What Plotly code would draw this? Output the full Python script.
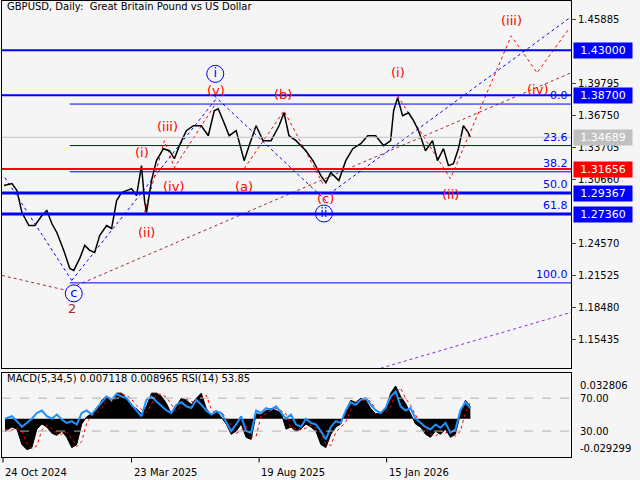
import plotly.graph_objects as go

# ---- data ----
bar_x = [2,10,15,20,27,33,40,45,50,55,62,68,72,78,83,88,93,98,105,110,115,120,125,130,135,140,143,145,150,155,162,168,173,178,185,192,200,207,213,217,222,228,235,243,248,255,262,270,278,283,288,295,305,312,320,325,330,338,345,352,360,367,375,383,390,393,397,402,408,413,418,425,432,437,443,448,453,458,463,468,470]
close = [1.3008,1.3027,1.2960,1.2751,1.2627,1.2627,1.2723,1.2770,1.2646,1.2561,1.2390,1.2218,1.2199,1.2313,1.2437,1.2390,1.2370,1.2532,1.2627,1.2599,1.2865,1.2941,1.2960,1.2979,1.2913,1.3199,1.2865,1.2751,1.3056,1.3246,1.3360,1.3341,1.3265,1.3389,1.3532,1.3579,1.3579,1.3484,1.3722,1.3741,1.3627,1.3484,1.3532,1.3246,1.3389,1.3579,1.3437,1.3437,1.3579,1.3703,1.3484,1.3437,1.3341,1.3246,1.3103,1.3036,1.3132,1.3056,1.3246,1.3360,1.3408,1.3484,1.3484,1.3389,1.3437,1.3722,1.3846,1.3675,1.3703,1.3627,1.3532,1.3341,1.3437,1.3246,1.3360,1.3199,1.3217,1.3360,1.3579,1.3513,1.3469]

ind_x = [3] + list(range(10, 475, 5))
macd = [-12,-8,-10,-25,-30,-28,-10,-5,-8,-14,-16,-12,-18,-28,-25,-5,2,5,8,18,22,16,25,25,20,12,10,5,12,25,25,22,15,5,12,20,18,14,20,25,10,4,8,2,-5,-15,-12,-5,-18,-20,5,4,8,10,8,6,-10,-8,-12,-10,-5,-8,-12,-25,-28,-15,-8,-5,8,18,16,20,18,10,5,5,10,25,32,22,15,5,-5,-8,-15,-18,-12,-15,-10,-18,-15,5,18,12]
signal = [-10,-11,-9,-12,-24,-29,-26,-11,-6,-9,-14,-15,-13,-19,-27,-22,-4,3,6,10,18,21,18,24,23,19,13,9,6,14,24,24,21,14,7,13,19,17,15,21,23,9,5,7,1,-6,-14,-11,-7,-18,-17,3,5,8,10,8,5,-9,-9,-11,-9,-6,-9,-14,-24,-26,-13,-8,-3,9,17,17,19,17,9,6,6,12,25,30,20,13,4,-5,-9,-15,-17,-12,-14,-11,-17,-12,6,16]
rsi = [45,48,42,35,40,45,52,55,48,45,50,44,40,42,38,52,55,50,58,65,72,68,75,72,70,62,55,48,68,72,66,60,55,52,62,65,60,58,68,62,55,50,54,52,40,30,38,48,30,28,55,52,58,56,60,52,45,50,38,35,45,40,38,30,20,35,42,40,55,65,62,68,70,62,55,52,58,72,78,60,55,58,45,40,35,32,38,34,40,28,32,55,65,58]

axis_ticks = [1.45885,1.39795,1.36750,1.33705,1.30660,1.24570,1.21525,1.18480,1.15435]
boxed_levels = [1.43000,1.38700,1.34689,1.31656,1.29367,1.27360]
boxed_colors = ["#0000ff","#0000ff","#c0c0c0","#ff0000","#0000ff","#0000ff"]
fib_levels = [1.3786,1.3390,1.3140,1.29367,1.27360,1.2080]
fib_names = ["0.0","23.6","38.2","50.0","61.8","100.0"]
date_ticks = [1,130,258,386]
date_labels = ["24 Oct 2024","23 Mar 2025","19 Aug 2025","15 Jan 2026"]

blue_paths = [([3,70],[1.3084,1.2103]),([70,215],[1.2103,1.3836]),([213,325],[1.3865,1.2865]),([333,571],[1.2960,1.4617])]
brown_paths = [([0,65],[1.2151,1.2008]),([75,571],[1.2056,1.4084])]
purple_path = ([380,571],[1.1266,1.1799])
red_paths = [([143,163,173,213],[1.2751,1.3436,1.3179,1.3769]),
             ([243,283,322],[1.3170,1.3722,1.3027]),
             ([397,450,511,537,568],[1.3865,1.3074,1.4436,1.4084,1.4493])]
red_labels = [("(i)",140,1.3322),("(ii)",145,1.2560),("(iii)",166,1.3570),("(iv)",172,1.3000),("(v)",215,1.3912),
              ("(a)",243,1.3000),("(b)",282,1.3874),("(c)",325,1.2884),("(i)",397,1.4084),("(ii)",450,1.2922),
              ("(iii)",511,1.4579),("(iv)",537,1.3922)]
blue_labels = [("i",214,1.4074),("ii",323,1.2742),("c",72,1.1980)]

fig = go.Figure()
FONT = "DejaVu Sans"

for x, y in blue_paths:
    fig.add_trace(go.Scatter(x=x, y=y, mode="lines", line=dict(color="#0000ff", width=1, dash="dot")))
for x, y in brown_paths:
    fig.add_trace(go.Scatter(x=x, y=y, mode="lines", line=dict(color="#a52a2a", width=1, dash="dot")))
fig.add_trace(go.Scatter(x=purple_path[0], y=purple_path[1], mode="lines", line=dict(color="#8a2be2", width=1, dash="dot")))
for x, y in red_paths:
    fig.add_trace(go.Scatter(x=x, y=y, mode="lines", line=dict(color="#ff0000", width=1, dash="dot")))

fig.add_trace(go.Scatter(x=bar_x, y=close, mode="lines", line=dict(color="black", width=1.5)))

shapes = []
def hline(y, color, width, x0=0):
    shapes.append(dict(type="line", xref="x", yref="y", x0=x0, x1=571, y0=y, y1=y, line=dict(color=color, width=width)))
hline(1.34689, "#c0c0c0", 1)
for lv in fib_levels:
    hline(lv, "#0000ff", 1, x0=68)
hline(1.43, "#0000ff", 2); hline(1.387, "#0000ff", 2)
hline(1.31656, "#ff0000", 2); hline(1.29367, "#0000ff", 3); hline(1.2736, "#0000ff", 3)
for v in (70, 30):
    shapes.append(dict(type="line", xref="x2", yref="y3", x0=0, x1=571, y0=v, y1=v, line=dict(color="#b0b0b0", width=1, dash="dash")))
for t in date_ticks:
    shapes.append(dict(type="line", xref="x2", yref="paper", x0=t, x1=t, y0=0, y1=-0.012, line=dict(color="black", width=1)))
fig.update_layout(shapes=shapes)

ann = []
for t, x, y in red_labels:
    ann.append(dict(x=x, y=y, xref="x", yref="y", text=t, showarrow=False, font=dict(color="#ff0000", size=13, family=FONT)))
ann.append(dict(x=70, y=1.1837, xref="x", yref="y", text="2", showarrow=False, font=dict(color="#a52a2a", size=13, family=FONT)))
fig.add_trace(go.Scatter(x=[b[1] for b in blue_labels], y=[b[2] for b in blue_labels], mode="markers+text",
                         text=[b[0] for b in blue_labels], textposition="middle center",
                         textfont=dict(color="#0000ff", size=13, family=FONT),
                         marker=dict(symbol="circle-open", size=17, color="#0000ff", line=dict(width=1))))
for n, lv in zip(fib_names, fib_levels):
    ann.append(dict(x=570, y=lv, xref="x", yref="y", text=n, showarrow=False, xanchor="right", yanchor="bottom",
                    font=dict(color="#0000ff", size=11, family=FONT)))
for lv, c in zip(boxed_levels, boxed_colors):
    ann.append(dict(x=1.003, y=lv, xref="paper", yref="y", text=f"{lv:.5f}", showarrow=False, xanchor="left",
                    bgcolor=c, font=dict(color="white", size=11, family=FONT), borderpad=1, width=56))
ann.append(dict(x=0.005, y=1.472, xref="paper", yref="y", text="GBPUSD, Daily:  Great Britain Pound vs US Dollar", showarrow=False,
                xanchor="left", yanchor="middle", font=dict(size=10, family=FONT, color="black")))
ann.append(dict(x=0.005, y=0.0395, xref="paper", yref="y2", text="MACD(5,34,5) 0.007118 0.008965 RSI(14) 53.85", showarrow=False,
                xanchor="left", yanchor="middle", font=dict(size=10, family=FONT, color="black")))
for v, t, ax in [(0.032806, "0.032806", "y2"), (-0.029299, "-0.029299", "y2"), (70, "70.00", "y3"), (30, "30.00", "y3")]:
    ann.append(dict(x=1.012, y=v, xref="paper", yref=ax, text=t, showarrow=False, xanchor="left",
                    font=dict(size=10, family=FONT, color="black")))
for t, lab in zip(date_ticks, date_labels):
    ann.append(dict(x=t, y=-0.018, xref="x2", yref="paper", text=lab, showarrow=False, xanchor="left", yanchor="top",
                    font=dict(size=10, family=FONT, color="black")))
fig.update_layout(annotations=ann)

fig.add_trace(go.Scatter(x=ind_x, y=[m / 1000 for m in macd], mode="lines", fill="tozeroy", fillcolor="black",
                         line=dict(color="black", width=1), xaxis="x2", yaxis="y2"))
fig.add_trace(go.Scatter(x=ind_x, y=[m / 1000 for m in signal], mode="lines", line=dict(color="#ff0000", width=1, dash="dot"),
                         xaxis="x2", yaxis="y2"))
fig.add_trace(go.Scatter(x=ind_x, y=rsi, mode="lines", line=dict(color="#1e90ff", width=2), xaxis="x2", yaxis="y3"))

fig.update_layout(
    width=640, height=480, showlegend=False,
    margin=dict(l=2, r=69, t=1, b=23),
    paper_bgcolor="#f5f5f5", plot_bgcolor="#f5f5f5",
    font=dict(family=FONT, size=10, color="black"),
    xaxis=dict(range=[0, 571], showticklabels=False, showgrid=False, zeroline=False, showline=True, mirror=True,
               linecolor="black", ticks="", domain=[0, 1], anchor="y"),
    yaxis=dict(range=[1.1266, 1.4769], domain=[0.1947, 1], side="right", tickvals=axis_ticks,
               ticktext=[f"{v:.5f}" for v in axis_ticks], ticks="outside", ticklen=4, showgrid=False, zeroline=False,
               showline=True, mirror=True, linecolor="black", tickfont=dict(size=10)),
    xaxis2=dict(range=[0, 571], showticklabels=False, ticks="", showgrid=False,
                zeroline=False, showline=True, mirror=True, linecolor="black", anchor="y2", domain=[0, 1]),
    yaxis2=dict(range=[-0.0371, 0.0444], domain=[0, 0.1838], showticklabels=False, showgrid=False, zeroline=False,
                showline=True, mirror=True, linecolor="black", anchor="x2", side="right", ticks=""),
    yaxis3=dict(range=[-1.5, 100.3], overlaying="y2", showticklabels=False, showgrid=False, zeroline=False, anchor="x2"),
)
fig.write_html("out.html", config={"displayModeBar": False}, post_script="document.body.style.margin='0';")
